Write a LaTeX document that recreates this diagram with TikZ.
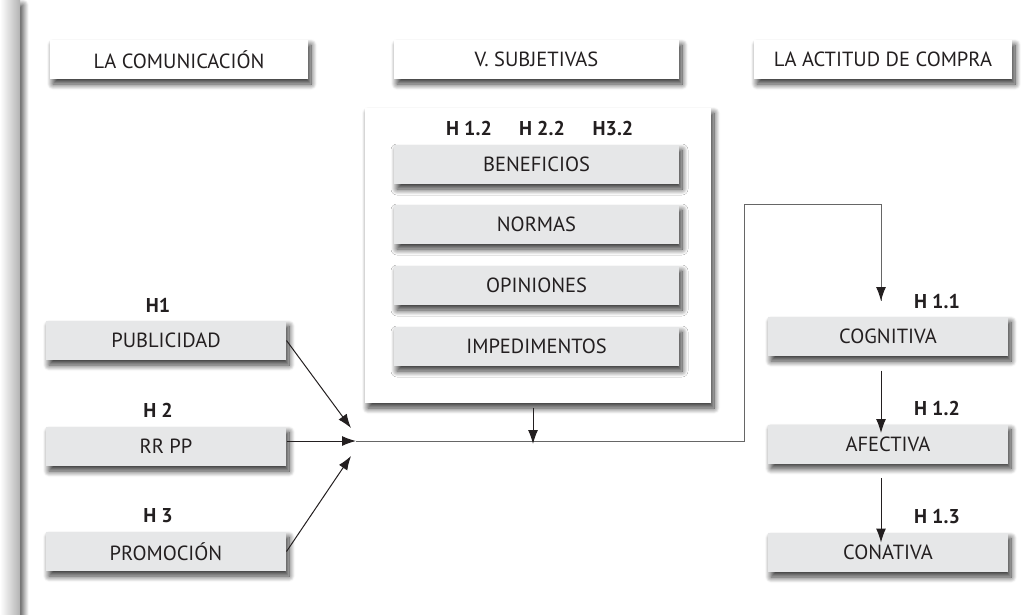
\documentclass[tikz,border=0pt]{standalone}
\usepackage{fontspec}
\setmainfont{PT Sans}
\usetikzlibrary{arrows.meta,shadows.blur}
\definecolor{boxgray}{HTML}{E6E7E8}
\definecolor{ink}{HTML}{231F20}
\tikzset{
  shade/.style={blur shadow={shadow xshift=3pt,shadow yshift=-5pt,shadow blur radius=6pt,shadow blur steps=12,shadow opacity=80}},
  headbox/.style={fill=white,shade,minimum height=39pt,text=ink,font=\fontsize{20.5}{24}\selectfont,inner sep=0pt},
  itembox/.style={fill=boxgray,shade,minimum width=240pt,minimum height=39pt,text=ink,font=\fontsize{20.5}{24}\selectfont,inner sep=0pt},
  hlabel/.style={text=ink,font=\bfseries\fontsize{20}{24}\selectfont,inner sep=0pt},
  >={Latex[length=14pt,width=10pt]}
}
\begin{document}
\begin{tikzpicture}[x=1pt,y=-1pt,line width=1pt]
        \useasboundingbox (0,0) rectangle (1021,614);
        \shade[left color=white,right color=black!30] (0,0) rectangle (20,614);
        % titulos
        \node[headbox,minimum width=258pt] (hcom) at (179,59.5) {LA COMUNICACIÓN};
        \node[headbox,minimum width=285pt] (hsub) at (536.5,59.5) {V. SUBJETIVAS};
        \node[headbox,minimum width=258pt] (hact) at (883,59.5) {LA ACTITUD DE COMPRA};
        % variables subjetivas
        \node[fill=white,shade,minimum width=346pt,minimum height=295pt,inner sep=0pt] (sbox) at (538,255.5) {};
        \node[hlabel] (h12) at (469,128) {H 1.2};
        \node[hlabel] (h22) at (542,128) {H 2.2};
        \node[hlabel] (h32) at (613,128) {H3.2};
        \node[itembox,minimum width=285pt] (ben) at (536.5,164.5) {BENEFICIOS};
        \node[itembox,minimum width=285pt] (nor) at (536.5,224.5) {NORMAS};
        \node[itembox,minimum width=285pt] (opi) at (536.5,285.5) {OPINIONES};
        \node[itembox,minimum width=285pt] (imp) at (536.5,346.5) {IMPEDIMENTOS};
        % comunicacion
        \node[hlabel] (h1) at (158,305) {H1};
        \node[itembox] (pub) at (166,340.5) {PUBLICIDAD};
        \node[hlabel] (h2) at (158,410) {H 2};
        \node[itembox] (rrpp) at (166,446.5) {RR PP};
        \node[hlabel] (h3) at (158,516) {H 3};
        \node[itembox] (prom) at (166,551.5) {PROMOCIÓN};
        % actitud de compra
        \node[hlabel] (h11) at (937,301) {H 1.1};
        \node[itembox] (cog) at (888,336.5) {COGNITIVA};
        \node[hlabel] (h12b) at (937,408) {H 1.2};
        \node[itembox] (afe) at (888,444) {AFECTIVA};
        \node[hlabel] (h13) at (937,517) {H 1.3};
        \node[itembox] (con) at (888,552.5) {CONATIVA};
        % flechas
        \coordinate (j1) at (351,428);
        \coordinate (j2) at (356,441);
        \coordinate (j3) at (351,456);
        \coordinate (cogin) at (881,301);
        \draw[->,ink] (pub.east) -- (j1);
        \draw[->,ink] (rrpp.east |- j2) -- (j2);
        \draw[->,ink] (prom.east) -- (j3);
        \draw[black!60] (j2) -- (744,441) |- (881,204) -- (cogin);
        \draw[->,ink] (881,288) -- (cogin);
        \draw[->,ink] ([xshift=-5pt,yshift=-4pt]sbox.south) -- ([xshift=-5pt,yshift=-3pt]sbox.south |- j2);
        \draw[->,ink] ([xshift=-7pt,yshift=-14pt]cog.south) -- ([xshift=-7pt,yshift=-9pt]afe.north);
        \draw[->,ink] ([xshift=-7pt,yshift=-14pt]afe.south) -- ([xshift=-7pt,yshift=-10pt]con.north);
\end{tikzpicture}
\end{document}
